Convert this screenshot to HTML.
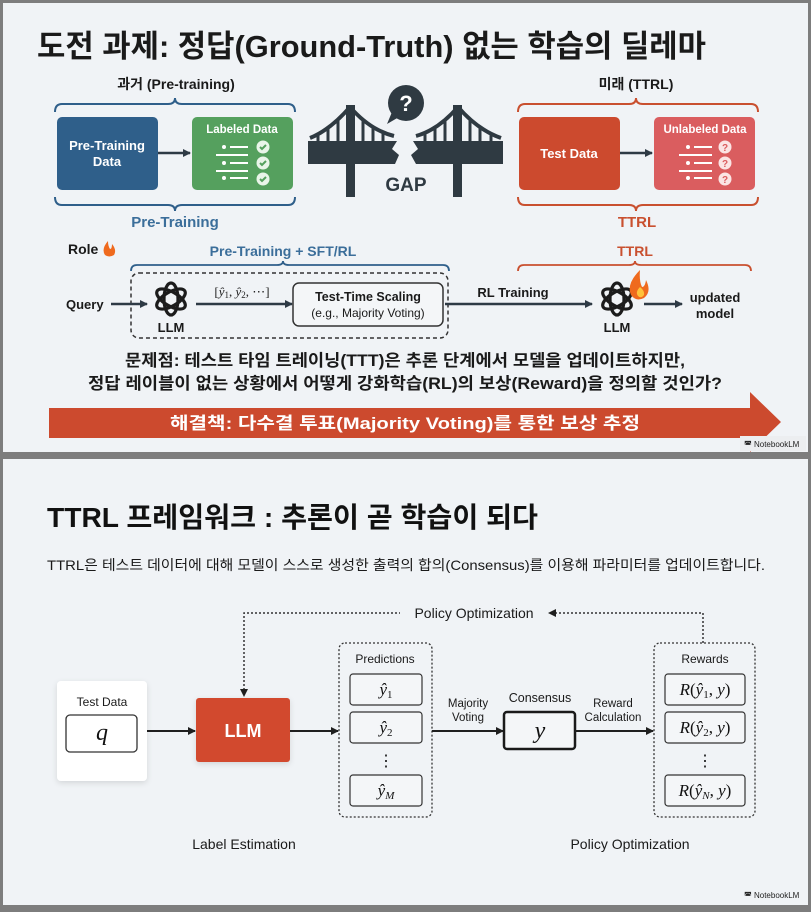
<!DOCTYPE html>
<html><head><meta charset="utf-8"><style>
html,body{margin:0;padding:0;background:#7d7d7d}
svg{display:block}
text{font-family:"Liberation Sans","Noto Sans CJK KR",sans-serif}
text.serif{font-family:"Liberation Serif","DejaVu Serif",serif}
</style></head><body>
<svg width="811" height="912" viewBox="0 0 811 912" xmlns="http://www.w3.org/2000/svg">
<defs>
<marker id="ah" markerWidth="8" markerHeight="8" refX="7" refY="4" orient="auto" markerUnits="userSpaceOnUse"><path d="M0,0 L8,4 L0,8 z" fill="#1f1f1f"/></marker>
<marker id="ahd" markerWidth="8" markerHeight="8" refX="7" refY="4" orient="auto" markerUnits="userSpaceOnUse"><path d="M0,0 L8,4 L0,8 z" fill="#2e3a45"/></marker>
<filter id="sh" x="-20%" y="-20%" width="140%" height="140%"><feDropShadow dx="0" dy="2" stdDeviation="3" flood-color="#000" flood-opacity="0.12"/></filter>
<g id="knot" fill="none" stroke="#1c1c1c" stroke-width="3.2">
<ellipse cx="0" cy="0" rx="7" ry="16"/>
<ellipse cx="0" cy="0" rx="7" ry="16" transform="rotate(60)"/>
<ellipse cx="0" cy="0" rx="7" ry="16" transform="rotate(120)"/>
</g>
</defs>
<rect x="0" y="0" width="811" height="912" fill="#7d7d7d"/>
<rect x="3" y="3" width="805" height="449" fill="#f0f3f6"/>
<rect x="3" y="459" width="805" height="446" fill="#f0f3f6"/>

<!-- Slide 1 -->
<text x="37" y="57" font-size="31" font-weight="bold" fill="#1a1a1a" textLength="669" lengthAdjust="spacingAndGlyphs">도전 과제: 정답(Ground-Truth) 없는 학습의 딜레마</text>

<text x="176" y="89" font-size="14" font-weight="bold" fill="#1a1a1a" text-anchor="middle">과거 (Pre-training)</text>
<path d="M55,112 Q55,104 62,104 L168,104 Q175,104 175,98 Q175,104 182,104 L288,104 Q295,104 295,112" fill="none" stroke="#2f5f8a" stroke-width="2"/>
<rect x="57" y="117" width="101" height="73" rx="5" fill="#2f5f8a"/>
<text x="107" y="150" font-size="13" font-weight="bold" fill="#fff" text-anchor="middle">Pre-Training</text>
<text x="107" y="166" font-size="13" font-weight="bold" fill="#fff" text-anchor="middle">Data</text>
<line x1="158" y1="153" x2="190" y2="153" stroke="#2e3a45" stroke-width="2.5" marker-end="url(#ahd)"/>
<rect x="192" y="117" width="101" height="73" rx="5" fill="#55a05e"/>
<text x="242" y="133" font-size="11.5" font-weight="bold" fill="#fff" text-anchor="middle">Labeled Data</text>
<g fill="#fff" stroke="#fff">
<circle cx="224" cy="147" r="1.5"/><line x1="230" y1="147" x2="248" y2="147" stroke-width="2"/>
<line x1="216" y1="155" x2="248" y2="155" stroke-width="2"/>
<circle cx="224" cy="163" r="1.5"/><line x1="230" y1="163" x2="248" y2="163" stroke-width="2"/>
<line x1="216" y1="171" x2="248" y2="171" stroke-width="2"/>
<circle cx="224" cy="178" r="1.5"/><line x1="230" y1="178" x2="248" y2="178" stroke-width="2"/>
</g>
<g fill="#e9f5e9"><circle cx="263" cy="147" r="6.5"/><circle cx="263" cy="163" r="6.5"/><circle cx="263" cy="179" r="6.5"/></g>
<g fill="none" stroke="#55a05e" stroke-width="2"><path d="M260,147 l2,2 l4,-4"/><path d="M260,163 l2,2 l4,-4"/><path d="M260,179 l2,2 l4,-4"/></g>
<path d="M55,197 Q55,205 62,205 L168,205 Q175,205 175,211 Q175,205 182,205 L288,205 Q295,205 295,197" fill="none" stroke="#2f5f8a" stroke-width="2"/>
<text x="175" y="227" font-size="15" font-weight="bold" fill="#3b6e9a" text-anchor="middle">Pre-Training</text>

<!-- Bridge -->
<g fill="#2f3a42">
<rect x="346" y="105" width="9" height="92"/>
<rect x="453" y="105" width="9" height="92"/>
<path d="M308,141 L397,141 L392,149 L399,155 L395,164 L308,164 z"/>
<path d="M503,141 L413,141 L418,149 L411,155 L416,164 L503,164 z"/>
</g>
<g fill="none" stroke="#2f3a42" stroke-width="4">
<path d="M350,107 Q330,130 310,138"/>
<path d="M350,107 Q370,130 394,136"/>
<path d="M458,107 Q478,130 501,138"/>
<path d="M458,107 Q438,130 416,136"/>
</g>
<g stroke="#2f3a42" stroke-width="3">
<line x1="318" y1="134" x2="318" y2="144"/><line x1="328" y1="128" x2="328" y2="144"/><line x1="338" y1="120" x2="338" y2="144"/>
<line x1="363" y1="120" x2="363" y2="144"/><line x1="373" y1="127" x2="373" y2="144"/><line x1="383" y1="132" x2="383" y2="144"/>
<line x1="425" y1="132" x2="425" y2="144"/><line x1="435" y1="127" x2="435" y2="144"/><line x1="445" y1="120" x2="445" y2="144"/>
<line x1="470" y1="120" x2="470" y2="144"/><line x1="480" y1="127" x2="480" y2="144"/><line x1="491" y1="133" x2="491" y2="144"/>
</g>
<circle cx="406" cy="103" r="18" fill="#2f3a42"/>
<path d="M392,112 L387,124 L399,117 z" fill="#2f3a42"/>
<text x="406" y="111" font-size="22" font-weight="bold" fill="#fff" text-anchor="middle">?</text>
<text x="406" y="191" font-size="19" font-weight="bold" fill="#2f3a42" text-anchor="middle">GAP</text>

<!-- right -->
<text x="636" y="89" font-size="14" font-weight="bold" fill="#1a1a1a" text-anchor="middle">미래 (TTRL)</text>
<path d="M518,112 Q518,104 525,104 L629,104 Q636,104 636,98 Q636,104 643,104 L751,104 Q758,104 758,112" fill="none" stroke="#c9502f" stroke-width="2"/>
<rect x="519" y="117" width="101" height="73" rx="5" fill="#cc4a2e"/>
<text x="569" y="158" font-size="13" font-weight="bold" fill="#fff" text-anchor="middle">Test Data</text>
<line x1="620" y1="153" x2="652" y2="153" stroke="#2e3a45" stroke-width="2.5" marker-end="url(#ahd)"/>
<rect x="654" y="117" width="101" height="73" rx="5" fill="#da5d5f"/>
<text x="705" y="133" font-size="11.5" font-weight="bold" fill="#fff" text-anchor="middle">Unlabeled Data</text>
<g fill="#fff" stroke="#fff">
<circle cx="688" cy="147" r="1.5"/><line x1="694" y1="147" x2="712" y2="147" stroke-width="2"/>
<line x1="679" y1="155" x2="712" y2="155" stroke-width="2"/>
<circle cx="688" cy="163" r="1.5"/><line x1="694" y1="163" x2="712" y2="163" stroke-width="2"/>
<line x1="679" y1="171" x2="712" y2="171" stroke-width="2"/>
<circle cx="688" cy="178" r="1.5"/><line x1="694" y1="178" x2="712" y2="178" stroke-width="2"/>
</g>
<g fill="#fbe4e4"><circle cx="725" cy="147" r="6.5"/><circle cx="725" cy="163" r="6.5"/><circle cx="725" cy="179" r="6.5"/></g>
<g font-size="10" font-weight="bold" fill="#da5d5f" text-anchor="middle"><text x="725" y="151">?</text><text x="725" y="167">?</text><text x="725" y="183">?</text></g>
<path d="M518,197 Q518,205 525,205 L629,205 Q636,205 636,211 Q636,205 643,205 L751,205 Q758,205 758,197" fill="none" stroke="#c9502f" stroke-width="2"/>
<text x="637" y="227" font-size="15" font-weight="bold" fill="#c9502f" text-anchor="middle">TTRL</text>

<!-- row 2 -->
<text x="68" y="254" font-size="14" font-weight="bold" fill="#1a1a1a">Role</text>
<path d="M108,241 q-7,8 -3,14 q4,3 9,0 q3,-5 -2,-11 q0,5 -2,5 q-2,-3 -2,-8z" fill="#ef6a1e"/>
<text x="283" y="256" font-size="14" font-weight="bold" fill="#3b6e9a" text-anchor="middle">Pre-Training + SFT/RL</text>
<path d="M131,271 Q131,265 137,265 L277,265 Q283,265 283,261 Q283,265 289,265 L443,265 Q449,265 449,271" fill="none" stroke="#2f5f8a" stroke-width="1.8"/>
<text x="635" y="256" font-size="14" font-weight="bold" fill="#c9502f" text-anchor="middle">TTRL</text>
<path d="M518,271 Q518,265 524,265 L629,265 Q635,265 635,261 Q635,265 641,265 L745,265 Q751,265 751,271" fill="none" stroke="#c9502f" stroke-width="1.8"/>
<rect x="131" y="273" width="317" height="65" rx="8" fill="none" stroke="#333" stroke-width="1.5" stroke-dasharray="4,3"/>
<text x="66" y="309" font-size="13" font-weight="bold" fill="#1a1a1a">Query</text>
<line x1="111" y1="304" x2="147" y2="304" stroke="#2e3a45" stroke-width="2.5" marker-end="url(#ahd)"/>
<use href="#knot" x="171" y="299"/>
<text x="171" y="332" font-size="13" font-weight="bold" fill="#1a1a1a" text-anchor="middle">LLM</text>
<line x1="196" y1="304" x2="292" y2="304" stroke="#2e3a45" stroke-width="2.5" marker-end="url(#ahd)"/>
<text class="serif" x="242" y="296" font-size="13" fill="#222" text-anchor="middle">[<tspan font-style="italic">ŷ</tspan><tspan font-size="9" dy="2">1</tspan><tspan dy="-2">, </tspan><tspan font-style="italic">ŷ</tspan><tspan font-size="9" dy="2">2</tspan><tspan dy="-2">, ⋯]</tspan></text>
<rect x="293" y="283" width="150" height="43" rx="6" fill="#f4f6f8" stroke="#333" stroke-width="1.5"/>
<text x="368" y="301" font-size="12.5" font-weight="bold" fill="#1a1a1a" text-anchor="middle">Test-Time Scaling</text>
<text x="368" y="317" font-size="12" fill="#1a1a1a" text-anchor="middle">(e.g., Majority Voting)</text>
<text x="513" y="297" font-size="13" font-weight="bold" fill="#1a1a1a" text-anchor="middle">RL Training</text>
<line x1="445" y1="304" x2="592" y2="304" stroke="#2e3a45" stroke-width="2.5" marker-end="url(#ahd)"/>
<use href="#knot" x="617" y="299"/>
<path d="M640,270 q-14,14 -9,25 q5,7 13,3 q8,-6 2,-18 q-1,7 -4,7 q-3,-6 -2,-17z" fill="#ef6a1e"/>
<path d="M640,287 q-5,5 -2,9 q3,3 6,-1 q1,-4 -4,-8z" fill="#ffc23a"/>
<text x="617" y="332" font-size="13" font-weight="bold" fill="#1a1a1a" text-anchor="middle">LLM</text>
<line x1="644" y1="304" x2="682" y2="304" stroke="#2e3a45" stroke-width="2.5" marker-end="url(#ahd)"/>
<text x="715" y="302" font-size="13" font-weight="bold" fill="#1a1a1a" text-anchor="middle">updated</text>
<text x="715" y="318" font-size="13" font-weight="bold" fill="#1a1a1a" text-anchor="middle">model</text>

<text x="405" y="366" font-size="16.5" font-weight="bold" fill="#1a1a1a" text-anchor="middle" textLength="560" lengthAdjust="spacingAndGlyphs">문제점: 테스트 타임 트레이닝(TTT)은 추론 단계에서 모델을 업데이트하지만,</text>
<text x="405" y="389" font-size="16.5" font-weight="bold" fill="#1a1a1a" text-anchor="middle" textLength="634" lengthAdjust="spacingAndGlyphs">정답 레이블이 없는 상황에서 어떻게 강화학습(RL)의 보상(Reward)을 정의할 것인가?</text>
<path d="M49,408 L750,408 L750,392 L781,422 L750,452 L750,438 L49,438 z" fill="#cc4a2e"/>
<text x="405" y="429" font-size="17" font-weight="bold" fill="#fff" text-anchor="middle" textLength="470" lengthAdjust="spacingAndGlyphs">해결책: 다수결 투표(Majority Voting)를 통한 보상 추정</text>
<rect x="740" y="436" width="66" height="15" fill="#eceef0"/>
<text x="744" y="447" font-size="8" fill="#222">◚ NotebookLM</text>

<!-- Slide 2 -->
<text x="47" y="527" font-size="28" font-weight="bold" fill="#111" textLength="491" lengthAdjust="spacingAndGlyphs">TTRL 프레임워크 : 추론이 곧 학습이 되다</text>
<text x="47" y="570" font-size="14" fill="#1a1a1a" textLength="718" lengthAdjust="spacingAndGlyphs">TTRL은 테스트 데이터에 대해 모델이 스스로 생성한 출력의 합의(Consensus)를 이용해 파라미터를 업데이트합니다.</text>

<path d="M244,690 L244,613 L400,613" fill="none" stroke="#333" stroke-width="1.5" stroke-dasharray="2,2"/>
<path d="M244,697 l-4,-8 l8,0z" fill="#1f1f1f"/>
<text x="474" y="618" font-size="14" fill="#1a1a1a" text-anchor="middle">Policy Optimization</text>
<path d="M703,643 L703,613 L556,613" fill="none" stroke="#333" stroke-width="1.5" stroke-dasharray="2,2"/>
<path d="M548,613 l8,-4 l0,8z" fill="#1f1f1f"/>

<rect x="57" y="681" width="90" height="100" rx="4" fill="#fff" filter="url(#sh)"/>
<text x="102" y="706" font-size="12" fill="#1a1a1a" text-anchor="middle">Test Data</text>
<rect x="66" y="715" width="71" height="37" rx="4" fill="#fff" stroke="#333" stroke-width="1.3"/>
<text class="serif" x="102" y="740" font-size="24" font-style="italic" fill="#111" text-anchor="middle">q</text>
<line x1="147" y1="731" x2="195" y2="731" stroke="#1f1f1f" stroke-width="2" marker-end="url(#ah)"/>
<rect x="196" y="698" width="94" height="64" rx="3" fill="#d24a2f" filter="url(#sh)"/>
<text x="243" y="737" font-size="18" font-weight="bold" fill="#fff" text-anchor="middle">LLM</text>
<line x1="290" y1="731" x2="338" y2="731" stroke="#1f1f1f" stroke-width="2" marker-end="url(#ah)"/>

<rect x="339" y="643" width="93" height="174" rx="6" fill="none" stroke="#333" stroke-width="1.3" stroke-dasharray="2,2"/>
<text x="385" y="663" font-size="12" fill="#1a1a1a" text-anchor="middle">Predictions</text>
<g fill="#f4f6f8" stroke="#333" stroke-width="1.2">
<rect x="350" y="674" width="72" height="31" rx="3"/>
<rect x="350" y="712" width="72" height="31" rx="3"/>
<rect x="350" y="775" width="72" height="31" rx="3"/>
</g>
<g font-size="17" fill="#111" text-anchor="middle">
<text class="serif" x="386" y="695" font-style="italic">ŷ<tspan font-size="11" font-style="normal" dy="3">1</tspan></text>
<text class="serif" x="386" y="733" font-style="italic">ŷ<tspan font-size="11" font-style="normal" dy="3">2</tspan></text>
<text class="serif" x="386" y="796" font-style="italic">ŷ<tspan font-size="11" dy="3">M</tspan></text>
</g>
<text x="386" y="766" font-size="16" fill="#111" text-anchor="middle">⋮</text>

<text x="468" y="707" font-size="11.5" fill="#1a1a1a" text-anchor="middle">Majority</text>
<text x="468" y="721" font-size="11.5" fill="#1a1a1a" text-anchor="middle">Voting</text>
<line x1="432" y1="731" x2="503" y2="731" stroke="#1f1f1f" stroke-width="2" marker-end="url(#ah)"/>
<text x="540" y="702" font-size="12.5" fill="#1a1a1a" text-anchor="middle">Consensus</text>
<rect x="504" y="712" width="71" height="37" rx="3" fill="#f4f6f8" stroke="#1a1a1a" stroke-width="2.5"/>
<text class="serif" x="540" y="738" font-size="24" font-style="italic" fill="#111" text-anchor="middle">y</text>
<text x="613" y="707" font-size="11.5" fill="#1a1a1a" text-anchor="middle">Reward</text>
<text x="613" y="721" font-size="11.5" fill="#1a1a1a" text-anchor="middle">Calculation</text>
<line x1="575" y1="731" x2="653" y2="731" stroke="#1f1f1f" stroke-width="2" marker-end="url(#ah)"/>

<rect x="654" y="643" width="101" height="174" rx="6" fill="none" stroke="#333" stroke-width="1.3" stroke-dasharray="2,2"/>
<text x="705" y="663" font-size="12" fill="#1a1a1a" text-anchor="middle">Rewards</text>
<g fill="#f4f6f8" stroke="#333" stroke-width="1.2">
<rect x="665" y="674" width="80" height="31" rx="3"/>
<rect x="665" y="712" width="80" height="31" rx="3"/>
<rect x="665" y="775" width="80" height="31" rx="3"/>
</g>
<g font-size="17" fill="#111" text-anchor="middle">
<text class="serif" x="705" y="695"><tspan font-style="italic">R</tspan>(<tspan font-style="italic">ŷ</tspan><tspan font-size="11" dy="3">1</tspan><tspan dy="-3">, </tspan><tspan font-style="italic">y</tspan>)</text>
<text class="serif" x="705" y="733"><tspan font-style="italic">R</tspan>(<tspan font-style="italic">ŷ</tspan><tspan font-size="11" dy="3">2</tspan><tspan dy="-3">, </tspan><tspan font-style="italic">y</tspan>)</text>
<text class="serif" x="705" y="796"><tspan font-style="italic">R</tspan>(<tspan font-style="italic">ŷ</tspan><tspan font-size="11" font-style="italic" dy="3">N</tspan><tspan dy="-3">, </tspan><tspan font-style="italic">y</tspan>)</text>
</g>
<text x="705" y="766" font-size="16" fill="#111" text-anchor="middle">⋮</text>

<text x="244" y="849" font-size="14" fill="#1a1a1a" text-anchor="middle">Label Estimation</text>
<text x="630" y="849" font-size="14" fill="#1a1a1a" text-anchor="middle">Policy Optimization</text>
<text x="744" y="898" font-size="8" fill="#222">◚ NotebookLM</text>
</svg>
</body></html>
